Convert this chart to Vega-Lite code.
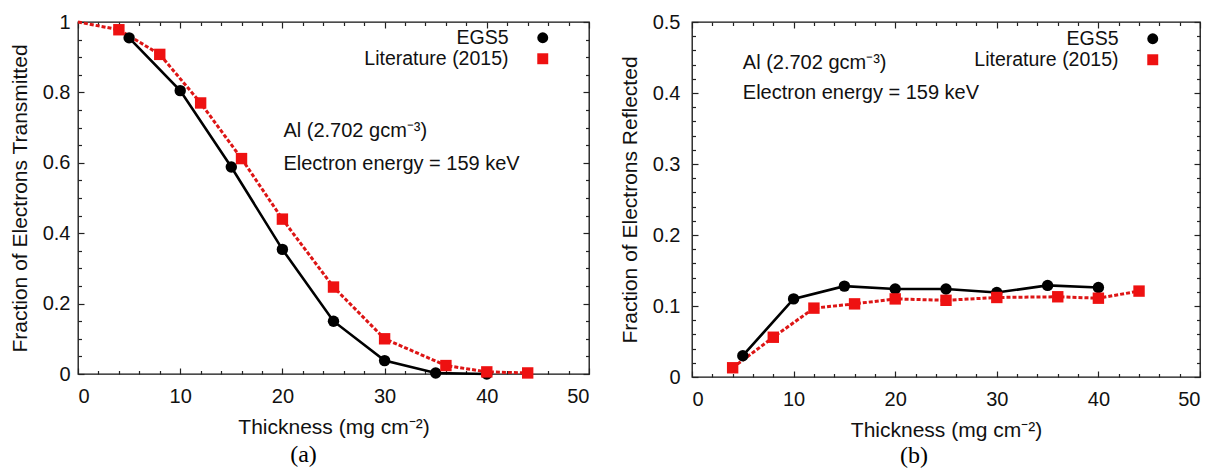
{
  "$schema": "https://vega.github.io/schema/vega-lite/v6.json",
  "padding": {"left": 8, "top": 11, "right": 0, "bottom": 0},
  "background": "white",
  "resolve": {"scale": {"color": "independent", "shape": "independent"}, "legend": {"color": "independent", "shape": "independent"}},
  "datasets": {
    "trans": [
      {"series": "EGS5", "t": 5, "f": 0.955},
      {"series": "EGS5", "t": 10, "f": 0.805},
      {"series": "EGS5", "t": 15, "f": 0.588},
      {"series": "EGS5", "t": 20, "f": 0.354},
      {"series": "EGS5", "t": 25, "f": 0.15},
      {"series": "EGS5", "t": 30, "f": 0.038},
      {"series": "EGS5", "t": 35, "f": 0.003},
      {"series": "EGS5", "t": 40, "f": 0.0},
      {"series": "Literature (2015)", "t": 0, "f": 1.0},
      {"series": "Literature (2015)", "t": 4, "f": 0.978},
      {"series": "Literature (2015)", "t": 8, "f": 0.908},
      {"series": "Literature (2015)", "t": 12, "f": 0.77},
      {"series": "Literature (2015)", "t": 16, "f": 0.612},
      {"series": "Literature (2015)", "t": 20, "f": 0.44},
      {"series": "Literature (2015)", "t": 25, "f": 0.247},
      {"series": "Literature (2015)", "t": 30, "f": 0.1},
      {"series": "Literature (2015)", "t": 36, "f": 0.024},
      {"series": "Literature (2015)", "t": 40, "f": 0.006},
      {"series": "Literature (2015)", "t": 44, "f": 0.003}
    ],
    "refl": [
      {"series": "EGS5", "t": 5, "f": 0.030},
      {"series": "EGS5", "t": 10, "f": 0.110},
      {"series": "EGS5", "t": 15, "f": 0.128},
      {"series": "EGS5", "t": 20, "f": 0.124},
      {"series": "EGS5", "t": 25, "f": 0.124},
      {"series": "EGS5", "t": 30, "f": 0.119},
      {"series": "EGS5", "t": 35, "f": 0.129},
      {"series": "EGS5", "t": 40, "f": 0.126},
      {"series": "Literature (2015)", "t": 4, "f": 0.013},
      {"series": "Literature (2015)", "t": 8, "f": 0.056},
      {"series": "Literature (2015)", "t": 12, "f": 0.097},
      {"series": "Literature (2015)", "t": 16, "f": 0.103},
      {"series": "Literature (2015)", "t": 20, "f": 0.110},
      {"series": "Literature (2015)", "t": 25, "f": 0.108},
      {"series": "Literature (2015)", "t": 30, "f": 0.112},
      {"series": "Literature (2015)", "t": 36, "f": 0.113},
      {"series": "Literature (2015)", "t": 40, "f": 0.111},
      {"series": "Literature (2015)", "t": 44, "f": 0.121}
    ],
    "one": [{}]
  },
  "config": {
    "font": "Liberation Sans",
    "view": {"stroke": "#111", "strokeWidth": 1.3},
    "axis": {
      "labelFont": "Liberation Sans", "labelFontSize": 20, "labelColor": "#111",
      "titleFont": "Liberation Sans", "titleFontSize": 21, "titleFontWeight": "normal", "titleColor": "#111",
      "grid": false, "domain": false, "tickColor": "#222", "tickWidth": 1.2
    },
    "legend": {
      "labelFont": "Liberation Sans", "labelFontSize": 19.5,
      "labelColor": "#111", "labelAlign": "right", "labelOffset": -44, "symbolSize": 120,
      "rowPadding": 0, "padding": 0
    },
    "concat": {"spacing": 27}
  },
  "hconcat": [
    {
      "width": 511, "height": 352,
      "title": {"text": "(a)", "orient": "bottom", "font": "Liberation Serif", "fontSize": 24, "fontWeight": "normal", "color": "black", "dx": -30, "offset": 6},
      "data": {"name": "trans"},
      "resolve": {"axis": {"x": "independent", "y": "independent"}},
      "layer": [
        {
          "transform": [{"filter": "datum.series === 'Literature (2015)'"}],
          "mark": {"type": "line", "strokeWidth": 3, "color": "#dd1515", "strokeDash": [4, 2]},
          "encoding": {
            "x": {"field": "t", "type": "quantitative", "scale": {"domain": [0, 50], "nice": false},
              "axis": {"orient": "bottom", "values": [0, 10, 20, 30, 40, 50], "tickSize": -6, "labelPadding": 18, "title": "Thickness (mg cm⁻²)", "titlePadding": 10}},
            "y": {"field": "f", "type": "quantitative", "scale": {"domain": [0, 1], "nice": false},
              "axis": {"orient": "left", "values": [0, 0.2, 0.4, 0.6, 0.8, 1], "format": "~g", "tickSize": -6, "labelPadding": 14, "title": "Fraction of Electrons Transmitted", "titlePadding": 12}}
          }
        },
        {
          "transform": [{"filter": "datum.series === 'EGS5'"}],
          "mark": {"type": "line", "strokeWidth": 2.6, "color": "#000000"},
          "encoding": {
            "x": {"field": "t", "type": "quantitative", "axis": null},
            "y": {"field": "f", "type": "quantitative", "axis": null}
          }
        },
        {
          "transform": [{"filter": "datum.t > 0"}],
          "mark": {"type": "point", "filled": true, "opacity": 1},
          "encoding": {
            "x": {"field": "t", "type": "quantitative", "axis": {"orient": "top", "values": [0, 10, 20, 30, 40, 50], "tickSize": -6, "labels": false, "title": null}},
            "y": {"field": "f", "type": "quantitative", "axis": {"orient": "right", "values": [0, 0.2, 0.4, 0.6, 0.8, 1], "tickSize": -6, "labels": false, "title": null}},
            "color": {"field": "series", "type": "nominal", "scale": {"domain": ["EGS5", "Literature (2015)"], "range": ["#000000", "#ee1111"]}, "legend": {"title": null, "orient": "none", "legendX": 455, "legendY": 6}},
            "shape": {"field": "series", "type": "nominal", "scale": {"domain": ["EGS5", "Literature (2015)"], "range": ["circle", "square"]}, "legend": {"title": null, "orient": "none", "legendX": 455, "legendY": 6}},
            "size": {"value": 130}
          }
        },
        {
          "mark": {"type": "point", "opacity": 0},
          "encoding": {
            "x": {"field": "t", "type": "quantitative", "axis": {"orient": "bottom", "values": [2, 4, 6, 8, 12, 14, 16, 18, 22, 24, 26, 28, 32, 34, 36, 38, 42, 44, 46, 48], "tickSize": -3.5, "labels": false, "title": null}},
            "y": {"field": "f", "type": "quantitative", "axis": {"orient": "left", "values": [0.05, 0.1, 0.15, 0.25, 0.3, 0.35, 0.45, 0.5, 0.55, 0.65, 0.7, 0.75, 0.85, 0.9, 0.95], "tickSize": -3.5, "labels": false, "title": null}}
          }
        },
        {
          "mark": {"type": "point", "opacity": 0},
          "encoding": {
            "x": {"field": "t", "type": "quantitative", "axis": {"orient": "top", "values": [2, 4, 6, 8, 12, 14, 16, 18, 22, 24, 26, 28, 32, 34, 36, 38, 42, 44, 46, 48], "tickSize": -3.5, "labels": false, "title": null}},
            "y": {"field": "f", "type": "quantitative", "axis": {"orient": "right", "values": [0.05, 0.1, 0.15, 0.25, 0.3, 0.35, 0.45, 0.5, 0.55, 0.65, 0.7, 0.75, 0.85, 0.9, 0.95], "tickSize": -3.5, "labels": false, "title": null}}
          }
        },
        {
          "data": {"name": "one"},
          "mark": {"type": "text", "align": "left", "baseline": "middle", "fontSize": 20, "fontWeight": "normal", "color": "#111"},
          "encoding": {"x": {"datum": 20.1, "type": "quantitative", "axis": null}, "y": {"datum": 0.69, "type": "quantitative", "axis": null}, "text": {"value": "Al (2.702 gcm⁻³)"}}
        },
        {
          "data": {"name": "one"},
          "mark": {"type": "text", "align": "left", "baseline": "middle", "fontSize": 20, "fontWeight": "normal", "color": "#111"},
          "encoding": {"x": {"datum": 20.1, "type": "quantitative", "axis": null}, "y": {"datum": 0.597, "type": "quantitative", "axis": null}, "text": {"value": "Electron energy = 159 keV"}}
        }
      ]
    },
    {
      "width": 508, "height": 355,
      "title": {"text": "(b)", "orient": "bottom", "font": "Liberation Serif", "fontSize": 24, "fontWeight": "normal", "color": "black", "dx": -32, "offset": 4},
      "data": {"name": "refl"},
      "resolve": {"axis": {"x": "independent", "y": "independent"}},
      "layer": [
        {
          "transform": [{"filter": "datum.series === 'Literature (2015)'"}],
          "mark": {"type": "line", "strokeWidth": 3, "color": "#dd1515", "strokeDash": [4, 2]},
          "encoding": {
            "x": {"field": "t", "type": "quantitative", "scale": {"domain": [0, 50], "nice": false},
              "axis": {"orient": "bottom", "values": [0, 10, 20, 30, 40, 50], "tickSize": -6, "labelPadding": 18, "title": "Thickness (mg cm⁻²)", "titlePadding": 10}},
            "y": {"field": "f", "type": "quantitative", "scale": {"domain": [0, 0.5], "nice": false},
              "axis": {"orient": "left", "values": [0, 0.1, 0.2, 0.3, 0.4, 0.5], "format": "~g", "tickSize": -6, "labelPadding": 18, "title": "Fraction of Electrons Reflected", "titlePadding": 12}}
          }
        },
        {
          "transform": [{"filter": "datum.series === 'EGS5'"}],
          "mark": {"type": "line", "strokeWidth": 2.6, "color": "#000000"},
          "encoding": {
            "x": {"field": "t", "type": "quantitative", "axis": null},
            "y": {"field": "f", "type": "quantitative", "axis": null}
          }
        },
        {
          "mark": {"type": "point", "filled": true, "opacity": 1},
          "encoding": {
            "x": {"field": "t", "type": "quantitative", "axis": {"orient": "top", "values": [0, 10, 20, 30, 40, 50], "tickSize": -6, "labels": false, "title": null}},
            "y": {"field": "f", "type": "quantitative", "axis": {"orient": "right", "values": [0, 0.1, 0.2, 0.3, 0.4, 0.5], "tickSize": -6, "labels": false, "title": null}},
            "color": {"field": "series", "type": "nominal", "scale": {"domain": ["EGS5", "Literature (2015)"], "range": ["#000000", "#ee1111"]}, "legend": {"title": null, "orient": "none", "legendX": 451, "legendY": 7}},
            "shape": {"field": "series", "type": "nominal", "scale": {"domain": ["EGS5", "Literature (2015)"], "range": ["circle", "square"]}, "legend": {"title": null, "orient": "none", "legendX": 451, "legendY": 7}},
            "size": {"value": 130}
          }
        },
        {
          "mark": {"type": "point", "opacity": 0},
          "encoding": {
            "x": {"field": "t", "type": "quantitative", "axis": {"orient": "bottom", "values": [2, 4, 6, 8, 12, 14, 16, 18, 22, 24, 26, 28, 32, 34, 36, 38, 42, 44, 46, 48], "tickSize": -3.5, "labels": false, "title": null}},
            "y": {"field": "f", "type": "quantitative", "axis": {"orient": "left", "values": [0.02, 0.04, 0.06, 0.08, 0.12, 0.14, 0.16, 0.18, 0.22, 0.24, 0.26, 0.28, 0.32, 0.34, 0.36, 0.38, 0.42, 0.44, 0.46, 0.48], "tickSize": -3.5, "labels": false, "title": null}}
          }
        },
        {
          "mark": {"type": "point", "opacity": 0},
          "encoding": {
            "x": {"field": "t", "type": "quantitative", "axis": {"orient": "top", "values": [2, 4, 6, 8, 12, 14, 16, 18, 22, 24, 26, 28, 32, 34, 36, 38, 42, 44, 46, 48], "tickSize": -3.5, "labels": false, "title": null}},
            "y": {"field": "f", "type": "quantitative", "axis": {"orient": "right", "values": [0.02, 0.04, 0.06, 0.08, 0.12, 0.14, 0.16, 0.18, 0.22, 0.24, 0.26, 0.28, 0.32, 0.34, 0.36, 0.38, 0.42, 0.44, 0.46, 0.48], "tickSize": -3.5, "labels": false, "title": null}}
          }
        },
        {
          "data": {"name": "one"},
          "mark": {"type": "text", "align": "left", "baseline": "middle", "fontSize": 20, "fontWeight": "normal", "color": "#111"},
          "encoding": {"x": {"datum": 5.0, "type": "quantitative", "axis": null}, "y": {"datum": 0.442, "type": "quantitative", "axis": null}, "text": {"value": "Al (2.702 gcm⁻³)"}}
        },
        {
          "data": {"name": "one"},
          "mark": {"type": "text", "align": "left", "baseline": "middle", "fontSize": 20, "fontWeight": "normal", "color": "#111"},
          "encoding": {"x": {"datum": 5.0, "type": "quantitative", "axis": null}, "y": {"datum": 0.4, "type": "quantitative", "axis": null}, "text": {"value": "Electron energy = 159 keV"}}
        }
      ]
    }
  ]
}
